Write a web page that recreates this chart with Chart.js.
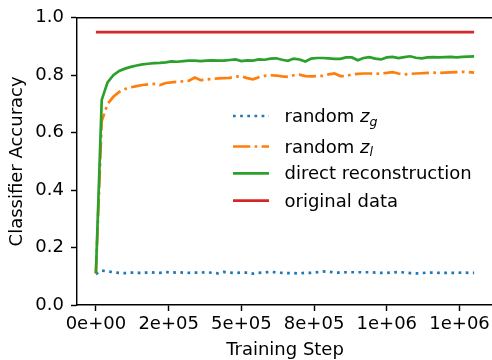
<!DOCTYPE html>
<html><head><meta charset="utf-8">
<script src="https://cdn.jsdelivr.net/npm/chart.js@4"></script>
<style>
html,body{margin:0;padding:0;overflow:hidden;background:#fff;}
#wrap{position:relative;width:500px;height:360px;}
</style></head><body>
<div id="wrap"><canvas id="c"></canvas></div>
<script>
const steps = [0,20000,40000,60000,80000,100000,120000,140000,160000,180000,
  200000,220000,240000,260000,280000,300000,320000,340000,360000,380000,
  400000,420000,440000,460000,480000,500000,520000,540000,560000,580000,
  600000,620000,640000,660000,680000,700000,720000,740000,760000,780000,
  800000,820000,840000,860000,880000,900000,920000,940000,960000,980000,
  1000000,1020000,1040000,1060000,1080000,1100000,1120000,1140000,1160000,1180000,
  1200000,1220000,1240000,1260000,1280000,1300000];
const randomZg = [0.108,0.120,0.117,0.114,0.112,0.111,0.113,0.113,0.110,0.114,
  0.113,0.112,0.115,0.112,0.114,0.113,0.112,0.113,0.113,0.114,
  0.112,0.110,0.115,0.113,0.111,0.113,0.113,0.109,0.112,0.113,
  0.116,0.113,0.112,0.111,0.111,0.110,0.112,0.112,0.114,0.117,
  0.116,0.113,0.113,0.114,0.114,0.114,0.114,0.114,0.113,0.112,
  0.112,0.113,0.115,0.113,0.111,0.110,0.111,0.113,0.113,0.112,
  0.112,0.112,0.112,0.113,0.112,0.112];
const randomZl = [0.110,0.640,0.700,0.725,0.742,0.752,0.758,0.762,0.766,0.768,
  0.770,0.766,0.773,0.775,0.777,0.779,0.781,0.792,0.783,0.785,
  0.787,0.789,0.790,0.791,0.795,0.797,0.790,0.786,0.793,0.798,
  0.800,0.799,0.796,0.794,0.800,0.802,0.797,0.796,0.797,0.798,
  0.803,0.806,0.797,0.797,0.803,0.805,0.806,0.806,0.805,0.806,
  0.808,0.811,0.806,0.803,0.805,0.806,0.807,0.808,0.809,0.808,
  0.809,0.810,0.811,0.812,0.811,0.809];
const directRecon = [0.110,0.714,0.775,0.800,0.815,0.823,0.829,0.834,0.838,0.840,
  0.842,0.843,0.845,0.848,0.847,0.849,0.851,0.851,0.849,0.851,
  0.852,0.851,0.851,0.853,0.855,0.849,0.852,0.851,0.855,0.854,
  0.858,0.859,0.854,0.850,0.858,0.855,0.848,0.858,0.860,0.860,
  0.859,0.857,0.857,0.862,0.862,0.852,0.860,0.863,0.858,0.855,
  0.862,0.864,0.860,0.863,0.866,0.861,0.859,0.862,0.863,0.862,
  0.863,0.864,0.862,0.864,0.865,0.866];
const originalSteps = [0, 1300000];
const originalData = [0.95, 0.95];
const seriesLabels = ['random $z_g$', 'random $z_l$', 'direct reconstruction', 'original data'];
const xTickValues = [0, 250000, 500000, 750000, 1000000, 1250000];
const xTickLabels = ['0e+00', '2e+05', '5e+05', '8e+05', '1e+06', '1e+06'];
const yTickValues = [0, 0.2, 0.4, 0.6, 0.8, 1.0];
const yTickLabels = ['0.0', '0.2', '0.4', '0.6', '0.8', '1.0'];
const xTitle = 'Training Step';
const yTitle = 'Classifier Accuracy';

const FONT = '"DejaVu Sans"';
const LW = 2.7;
const pts = (xs, ys) => xs.map((x, i) => ({x: x, y: ys[i]}));

const spinePlugin = {
  id: 'spines',
  afterDraw(chart) {
    const {ctx, chartArea: a} = chart;
    ctx.save();
    ctx.strokeStyle = '#000';
    ctx.lineWidth = 1.44;
    ctx.beginPath();
    ctx.moveTo(a.left - 0.7, a.top);
    ctx.lineTo(a.right + 0.7, a.top);
    ctx.moveTo(a.right, a.top);
    ctx.lineTo(a.right, a.bottom);
    ctx.stroke();
    ctx.restore();
  }
};

const legendRows = [116, 146.5, 173.3, 200.7];
const legendPlugin = {
  id: 'mplLegend',
  afterDatasetsDraw(chart) {
    const ctx = chart.ctx;
    ctx.save();
    chart.data.datasets.forEach((ds, i) => {
      const y = legendRows[i];
      ctx.strokeStyle = ds.borderColor;
      ctx.lineWidth = ds.borderWidth;
      ctx.setLineDash(ds.borderDash || []);
      ctx.lineCap = 'butt';
      ctx.beginPath();
      ctx.moveTo(233, y);
      ctx.lineTo(269, y);
      ctx.stroke();
      ctx.setLineDash([]);
      ctx.fillStyle = '#000';
      ctx.textBaseline = 'alphabetic';
      ctx.textAlign = 'left';
      const base = y + 6;
      let x = 284.5;
      const m = ds.label.match(/^(.*?)\$(\w)_(\w)\$$/);
      if (m) {
        ctx.font = '18px ' + FONT;
        ctx.fillText(m[1], x, base);
        x += ctx.measureText(m[1]).width;
        ctx.font = 'italic 18px ' + FONT;
        ctx.fillText(m[2], x, base);
        x += ctx.measureText(m[2]).width;
        ctx.font = 'italic 12.6px ' + FONT;
        ctx.fillText(m[3], x, base + 3.5);
      } else {
        ctx.font = '18px ' + FONT;
        ctx.fillText(ds.label, x, base);
      }
    });
    ctx.restore();
  }
};

const colors = ['#1f77b4', '#ff7f0e', '#2ca02c', '#d62728'];
const dashes = [[2.7, 4.46], [17.3, 4.3, 2.7, 4.3], [], []];
const seriesData = [pts(steps, randomZg), pts(steps, randomZl), pts(steps, directRecon), pts(originalSteps, originalData)];

new Chart(document.getElementById('c'), {
  type: 'line',
  data: {
    datasets: seriesData.map((d, i) => ({
      label: seriesLabels[i],
      data: d,
      borderColor: colors[i],
      backgroundColor: colors[i],
      borderWidth: LW,
      borderDash: dashes[i],
      pointRadius: 0,
      tension: 0,
      fill: false,
      order: 4 - i
    }))
  },
  options: {
    animation: false,
    responsive: true,
    maintainAspectRatio: false,
    devicePixelRatio: 1,
    layout: {padding: {left: 0, top: 13, right: 7, bottom: 0}},
    plugins: {legend: {display: false}, tooltip: {enabled: false}},
    scales: {
      x: {
        type: 'linear', min: -65000, max: 1365000,
        afterBuildTicks: s => { s.ticks = xTickValues.map(v => ({value: v})); },
        afterFit: s => { s.height = 55; },
        ticks: {autoSkip: false, maxRotation: 0, padding: 3, color: '#000',
          font: {family: FONT, size: 18},
          callback: (v, i) => xTickLabels[i]},
        grid: {drawOnChartArea: false, drawTicks: true, tickLength: 6, tickWidth: 1.44, tickColor: '#000'},
        border: {display: true, color: '#000', width: 1.44},
        title: {display: true, text: xTitle, color: '#000',
          font: {family: FONT, size: 18, lineHeight: 1}, padding: {top: 0, bottom: 1}}
      },
      y: {
        type: 'linear', min: 0, max: 1,
        afterBuildTicks: s => { s.ticks = yTickValues.map(v => ({value: v})); },
        afterFit: s => { s.width = 77; },
        ticks: {autoSkip: false, padding: 7, color: '#000',
          font: {family: FONT, size: 18},
          callback: (v, i) => yTickLabels[i]},
        grid: {drawOnChartArea: false, drawTicks: true, tickLength: 6, tickWidth: 1.44, tickColor: '#000'},
        border: {display: true, color: '#000', width: 1.44},
        title: {display: true, text: yTitle, color: '#000',
          font: {family: FONT, size: 18, lineHeight: 1.2}, padding: {top: 7, bottom: 0}}
      }
    }
  },
  plugins: [spinePlugin, legendPlugin]
});
</script>
</body></html>
